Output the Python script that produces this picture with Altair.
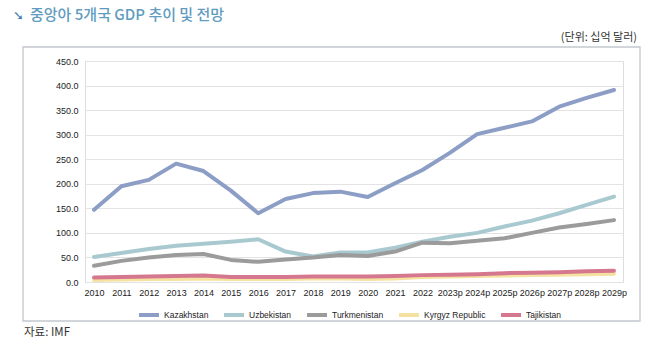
import altair as alt
import pandas as pd

years = ["2010", "2011", "2012", "2013", "2014", "2015", "2016", "2017", "2018", "2019",
         "2020", "2021", "2022", "2023p", "2024p", "2025p", "2026p", "2027p", "2028p", "2029p"]
countries = ["Kazakhstan", "Uzbekistan", "Turkmenistan", "Kyrgyz Republic", "Tajikistan"]
colors = ["#8c9dc6", "#a9c9d0", "#9b9b9b", "#f5e2a0", "#d5788f"]

kazakhstan = [147, 195, 208, 241, 226, 186, 140, 169, 181, 184,
              173, 201, 228, 263, 301, 314, 327, 357, 375, 391]
uzbekistan = [51, 59, 67, 74, 78, 82, 87, 62, 52, 60,
              60, 70, 82, 92, 100, 113, 125, 140, 157, 174]
turkmenistan = [33, 43, 50, 55, 57, 45, 41, 46, 50, 55,
                53, 62, 80, 79, 84, 89, 100, 111, 118, 126]
kyrgyz = [4, 5, 6, 6, 7, 6, 6, 6, 7, 7,
          6, 7, 10, 11, 12, 13, 14, 15, 16, 17]
tajikistan = [9, 10, 11, 12, 13, 10, 10, 10, 11, 11,
              11, 12, 14, 15, 16, 18, 19, 20, 22, 23]

series = [kazakhstan, uzbekistan, turkmenistan, kyrgyz, tajikistan]
rows = []
for ci, (c, vals) in enumerate(zip(countries, series)):
    for yi, (y, v) in enumerate(zip(years, vals)):
        rows.append({"country": c, "year": y, "gdp": v, "corder": ci, "yorder": yi})
df = pd.DataFrame(rows)

FONT = "Liberation Sans"
KFONT = "Noto Sans CJK KR"

lines = alt.Chart(df).mark_line(strokeWidth=4, strokeCap="round", strokeJoin="round").encode(
    x=alt.X("year:N", sort=years, title=None,
            scale=alt.Scale(type="point", padding=0.33),
            axis=alt.Axis(labelAngle=0, ticks=False, domain=False, grid=False,
                          labelFont=FONT, labelFontSize=9, labelColor="#222",
                          labelPadding=6)),
    y=alt.Y("gdp:Q", title=None,
            scale=alt.Scale(domain=[0, 450], nice=False),
            axis=alt.Axis(values=list(range(0, 451, 50)), format=".1f", ticks=False,
                          domain=False, gridColor="#e3e3e3", gridWidth=1,
                          labelFont=FONT, labelFontSize=9, labelColor="#222",
                          labelPadding=7)),
    color=alt.Color("country:N", sort=countries,
                    scale=alt.Scale(domain=countries, range=colors),
                    legend=alt.Legend(orient="none", direction="horizontal",
                                      legendX=52, legendY=242, title=None,
                                      symbolType="stroke", symbolSize=400,
                                      symbolStrokeWidth=4, labelFont=FONT,
                                      labelFontSize=8.5, labelColor="#222",
                                      columnPadding=7, labelOffset=3)),
    order=alt.Order("yorder:Q"),
    detail="corder:N",
)

# decorative frame around the whole figure (pixel space, no scale)
frame_box = pd.DataFrame({"fx": [-62], "fx2": [555], "fy": [-14], "fy2": [260]})
frame = alt.Chart(frame_box).mark_rect(
    fillOpacity=0, stroke="#c3c8cd", strokeWidth=1.3).encode(
    x=alt.X("fx:Q", scale=None, axis=None),
    x2="fx2:Q",
    y=alt.Y("fy:Q", scale=None, axis=None),
    y2="fy2:Q")

arrow = alt.Chart(pd.DataFrame({"t": ["➘"]})).mark_text(
    align="left", baseline="middle", font="DejaVu Sans", fontSize=13, fontWeight="bold",
    color="#3f7fae").encode(x=alt.value(-72), y=alt.value(-45), text="t:N")

title_df = pd.DataFrame({"t": ["중앙아 5개국 GDP 추이 및 전망"]})
title = alt.Chart(title_df).mark_text(
    align="left", baseline="middle", font=KFONT, fontSize=15, fontWeight=500,
    color="#5f9cc0").encode(x=alt.value(-55), y=alt.value(-46), text="t:N")

unit = alt.Chart(pd.DataFrame({"t": ["(단위: 십억 달러)"]})).mark_text(
    align="right", baseline="middle", font=KFONT, fontSize=11, color="#333").encode(
    x=alt.value(552), y=alt.value(-23), text="t:N")

source = alt.Chart(pd.DataFrame({"t": ["자료: IMF"]})).mark_text(
    align="left", baseline="middle", font=KFONT, fontSize=11.5, color="#333").encode(
    x=alt.value(-61), y=alt.value(272), text="t:N")

chart = alt.layer(lines, frame, arrow, title, unit, source).resolve_scale(
    x="independent", y="independent"
).properties(
    width=538, height=221,
    autosize=alt.AutoSizeParams(type="none"),
    padding={"left": 85, "top": 61, "right": 47, "bottom": 64},
).configure_view(stroke=None).configure(background="white")

chart.save("out.html", embed_options={"renderer": "svg", "actions": False})
